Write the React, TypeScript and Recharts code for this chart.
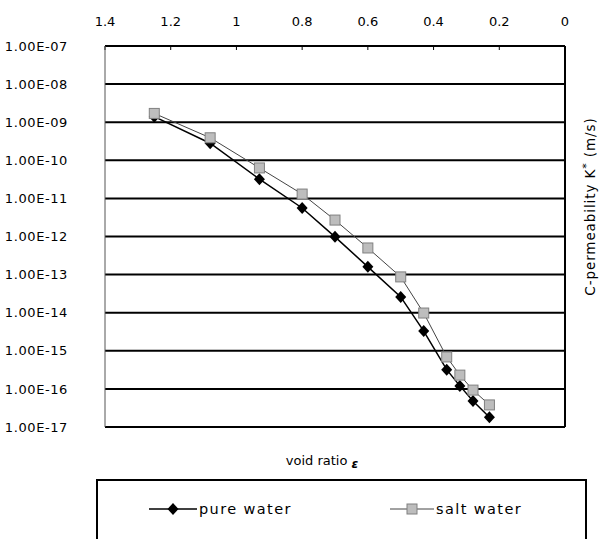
import React from 'react';
import { LineChart, Line, XAxis, YAxis, CartesianGrid, Legend } from 'recharts';

const voidRatio = [1.25, 1.08, 0.93, 0.8, 0.7, 0.6, 0.5, 0.43, 0.36, 0.32, 0.28, 0.23];
const pureWater = [1.4e-9, 2.8e-10, 3.2e-11, 5.6e-12, 9.8e-13, 1.6e-13, 2.6e-14, 3.3e-15, 3.2e-16, 1.2e-16, 4.8e-17, 1.8e-17];
const saltWater = [1.7e-9, 3.9e-10, 6.3e-11, 1.3e-11, 2.7e-12, 5.0e-13, 8.7e-14, 9.8e-15, 6.9e-16, 2.3e-16, 9.3e-17, 3.8e-17];
const xTicks = [1.4, 1.2, 1, 0.8, 0.6, 0.4, 0.2, 0];
const yTicks = [1e-17, 1e-16, 1e-15, 1e-14, 1e-13, 1e-12, 1e-11, 1e-10, 1e-9, 1e-8, 1e-7];
const seriesNames = ['pure water', 'salt water'];
const xLabel = 'void ratio ';
const yLabel = 'C-permeability K';

const data = voidRatio.map((e, i) => ({ e, pure: pureWater[i], salt: saltWater[i] }));

const FONT = '"DejaVu Sans", Verdana, sans-serif';

const fmtExp = (v: number) => {
  const [m, ex] = v.toExponential(2).split('e');
  const n = parseInt(ex, 10);
  return `${m.toUpperCase()}E${n < 0 ? '-' : '+'}${String(Math.abs(n)).padStart(2, '0')}`;
};

const fmtX = (v: number) => String(Math.round(v * 10) / 10);

const Diamond = (props: any) => {
  const { cx, cy } = props;
  if (cx == null || cy == null) return null;
  return <path d={`M${cx},${cy - 6}L${cx + 5.5},${cy}L${cx},${cy + 6}L${cx - 5.5},${cy}Z`} fill="#000" />;
};

const Square = (props: any) => {
  const { cx, cy } = props;
  if (cx == null || cy == null) return null;
  return <rect x={cx - 5} y={cy - 5} width={10} height={10} fill="#bdbdbd" stroke="#808080" strokeWidth={1} />;
};

const RightLabel = (props: any) => {
  const vb = props.viewBox || {};
  const x = vb.x + 25;
  const y = vb.y + vb.height / 2 - 30;
  return (
    <text x={x} y={y} transform={`rotate(-90 ${x} ${y})`} textAnchor="middle" dominantBaseline="central"
      fontFamily={FONT} fontSize={13.5} letterSpacing={0.9} fill="#000">
      {yLabel}<tspan dy={-4} fontSize={11}>*</tspan><tspan dy={4}> (m/s)</tspan>
    </text>
  );
};

const BottomLabel = (props: any) => {
  const vb = props.viewBox || {};
  const x = vb.x + vb.width / 2 - 13;
  const y = vb.y + 38;
  return (
    <text x={x} y={y} textAnchor="middle" fontFamily={FONT} fontSize={13} fill="#000">
      {xLabel}<tspan fontStyle="italic" fontWeight="bold" fontSize={12} dy={3}>ε</tspan>
    </text>
  );
};

const renderLegend = () => (
  <div style={{ position: 'relative', width: 491, height: 62, borderTop: '2px solid #000', borderLeft: '2px solid #000', borderRight: '2px solid #000', boxSizing: 'border-box', fontFamily: FONT, fontSize: 14.5, letterSpacing: 1.4, color: '#000' }}>
    <div style={{ position: 'absolute', left: 51, top: 20, display: 'flex', alignItems: 'center' }}>
      <svg width={48} height={14}>
        <line x1={0} y1={7} x2={48} y2={7} stroke="#000" strokeWidth={1.5} />
        <Diamond cx={24} cy={7} />
      </svg>
      <span style={{ marginLeft: 2 }}>{seriesNames[0]}</span>
    </div>
    <div style={{ position: 'absolute', left: 292, top: 20, display: 'flex', alignItems: 'center' }}>
      <svg width={44} height={14}>
        <line x1={0} y1={7} x2={44} y2={7} stroke="#444" strokeWidth={1} />
        <Square cx={22} cy={7} />
      </svg>
      <span style={{ marginLeft: 2 }}>{seriesNames[1]}</span>
    </div>
  </div>
);

export default function App() {
  return (
    <div style={{ position: 'absolute', left: 0, top: 0, background: '#fff' }}>
      <LineChart width={604} height={539} data={data} margin={{ top: 0, right: 0, left: 0, bottom: 62 }}>
        <CartesianGrid vertical={false} stroke="#000" strokeWidth={2} />
        <XAxis dataKey="e" type="number" domain={[0, 1.4]} reversed orientation="top" ticks={xTicks}
          tickFormatter={fmtX} height={46} tickSize={-4} tickMargin={24} interval={0}
          axisLine={{ stroke: '#000', strokeWidth: 1.5 }} tickLine={{ stroke: '#000' }}
          tick={{ fontFamily: FONT, fontSize: 13, fill: '#000' }} />
        <XAxis xAxisId="b" dataKey="e" type="number" domain={[0, 1.4]} reversed orientation="bottom" height={50}
          tick={false} axisLine={false} tickLine={false} label={<BottomLabel />} />
        <YAxis type="number" scale="log" domain={[1e-17, 1e-7]} ticks={yTicks} allowDataOverflow interval={0}
          tickFormatter={fmtExp} width={105} tickSize={0} tickMargin={37}
          axisLine={{ stroke: '#555', strokeWidth: 1 }} tickLine={false}
          tick={{ fontFamily: FONT, fontSize: 13, fill: '#000', letterSpacing: 0.6 }} />
        <YAxis yAxisId="r" orientation="right" type="number" scale="log" domain={[1e-17, 1e-7]} allowDataOverflow
          width={39} tick={false} tickLine={false} axisLine={{ stroke: '#000', strokeWidth: 2 }} label={<RightLabel />} />
        <Legend verticalAlign="middle" layout="horizontal" content={renderLegend}
          wrapperStyle={{ position: 'absolute', left: 96, top: 479, width: 491, height: 62 }} />
        <Line dataKey="pure" name={seriesNames[0]} stroke="#000" strokeWidth={1.5} dot={<Diamond />}
          isAnimationActive={false} activeDot={false} />
        <Line dataKey="salt" name={seriesNames[1]} stroke="#444" strokeWidth={1} dot={<Square />}
          isAnimationActive={false} activeDot={false} />
      </LineChart>
    </div>
  );
}
